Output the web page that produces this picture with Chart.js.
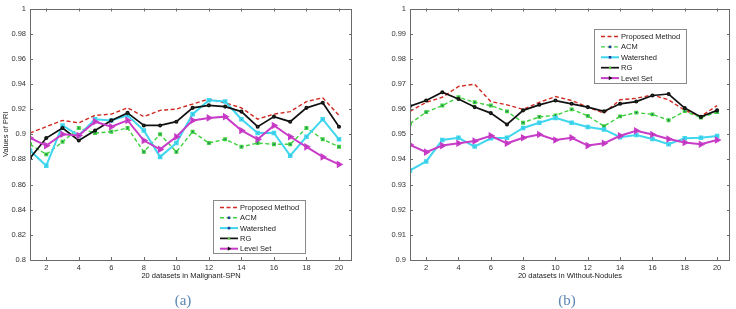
<!DOCTYPE html>
<html>
<head>
<meta charset="utf-8">
<script src="https://cdn.jsdelivr.net/npm/chart.js@4.4.0/dist/chart.umd.min.js"></script>
<style>
body { margin: 0; background: #fff; }
#wrap { position: relative; width: 736px; height: 309px; overflow: hidden; }
canvas { position: absolute; top: 0; }
.cap { position: absolute; top: 292px; font: 15px "Liberation Serif", "DejaVu Serif", serif; color: #5a86b4; transform: translateX(-50%); }
</style>
</head>
<body>
<div id="wrap">
  <canvas id="chartA" width="368" height="309" style="left:0"></canvas>
  <canvas id="chartB" width="368" height="309" style="left:368px"></canvas>
  <div class="cap" style="left:183px">(a)</div>
  <div class="cap" style="left:567px">(b)</div>
</div>
<script>
// values

var datasetNo = [1,2,3,4,5,6,7,8,9,10,11,12,13,14,15,16,17,18,19,20];
var xTicks = [2,4,6,8,10,12,14,16,18,20];
var seriesNames = ["Proposed Method", "ACM", "Watershed", "RG", "Level Set"];

// (a) Malignant-SPN
var spnYTicks = [0.8,0.82,0.84,0.86,0.88,0.9,0.92,0.94,0.96,0.98,1];
var spnProposed  = [0.901,0.906,0.911,0.909,0.915,0.916,0.921,0.914,0.919,0.920,0.924,0.928,0.925,0.921,0.912,0.916,0.918,0.926,0.929,0.915];
var spnAcm       = [0.892,0.884,0.894,0.905,0.901,0.902,0.905,0.886,0.900,0.886,0.902,0.893,0.896,0.890,0.893,0.892,0.892,0.905,0.896,0.890];
var spnWatershed = [0.887,0.875,0.907,0.899,0.912,0.911,0.915,0.903,0.882,0.893,0.916,0.927,0.926,0.912,0.901,0.901,0.883,0.898,0.912,0.896];
var spnRg        = [0.881,0.897,0.905,0.895,0.903,0.911,0.917,0.907,0.907,0.910,0.921,0.923,0.922,0.918,0.906,0.914,0.910,0.921,0.925,0.906];
var spnLevelSet  = [0.897,0.891,0.900,0.899,0.910,0.906,0.911,0.895,0.888,0.898,0.911,0.913,0.914,0.903,0.896,0.907,0.898,0.890,0.882,0.876];

// (b) Without-Nodules
var nodYTicks = [0.9,0.91,0.92,0.93,0.94,0.95,0.96,0.97,0.98,0.99,1];
var nodProposed  = [0.9591,0.9627,0.9647,0.9690,0.9699,0.9630,0.9617,0.9599,0.9627,0.9650,0.9634,0.9608,0.9584,0.9637,0.9643,0.9656,0.9637,0.9595,0.9571,0.9614];
var nodAcm       = [0.9542,0.9588,0.9614,0.9647,0.9627,0.9614,0.9591,0.9546,0.9569,0.9575,0.9599,0.9573,0.9532,0.9571,0.9586,0.9579,0.9556,0.9592,0.9566,0.9588];
var nodWatershed = [0.9356,0.9392,0.9477,0.9486,0.9451,0.9484,0.9486,0.9525,0.9546,0.9565,0.9546,0.9529,0.9519,0.9488,0.9497,0.9481,0.9460,0.9484,0.9486,0.9493];
var nodRg        = [0.9612,0.9634,0.9667,0.9640,0.9608,0.9584,0.9539,0.9595,0.9617,0.9634,0.9621,0.9608,0.9591,0.9621,0.9630,0.9654,0.9660,0.9604,0.9569,0.9595];
var nodLevelSet  = [0.9458,0.9429,0.9455,0.9464,0.9473,0.9494,0.9464,0.9486,0.9499,0.9477,0.9486,0.9455,0.9464,0.9494,0.9514,0.9499,0.9481,0.9467,0.9460,0.9477];

var FONT = '"Liberation Sans", Arial, sans-serif';

// MATLAB-like box with inward ticks on all four sides
var matlabAxes = {
  id: 'matlabAxes',
  afterDatasetsDraw: function(chart) {
    var a = chart.chartArea, ctx = chart.ctx;
    var xs = chart.scales.x, ys = chart.scales.y, t = 3;
    ctx.save();
    ctx.strokeStyle = '#6a6a6a';
    ctx.lineWidth = 1;
    ctx.strokeRect(Math.round(a.left) + 0.5, Math.round(a.top) + 0.5,
                   Math.round(a.right - a.left) - 1, Math.round(a.bottom - a.top) - 1);
    ctx.beginPath();
    xs.ticks.forEach(function(tk) {
      var px = Math.round(xs.getPixelForValue(tk.value)) + 0.5;
      ctx.moveTo(px, a.bottom); ctx.lineTo(px, a.bottom - t);
      ctx.moveTo(px, a.top); ctx.lineTo(px, a.top + t);
    });
    ys.ticks.forEach(function(tk) {
      var py = Math.round(ys.getPixelForValue(tk.value)) + 0.5;
      ctx.moveTo(a.left, py); ctx.lineTo(a.left + t, py);
      ctx.moveTo(a.right, py); ctx.lineTo(a.right - t, py);
    });
    ctx.stroke();
    ctx.restore();
  }
};

// boxed legend inside the axes
var legendBox = {
  id: 'legendBox',
  afterDraw: function(chart, args, opts) {
    var ctx = chart.ctx, x = opts.x, y = opts.y;
    ctx.save();
    ctx.fillStyle = '#fff';
    ctx.fillRect(x, y, opts.w, opts.h);
    ctx.strokeStyle = '#8a8a8a';
    ctx.lineWidth = 1;
    ctx.strokeRect(x + 0.5, y + 0.5, opts.w, opts.h);
    ctx.font = '7.5px ' + FONT;
    ctx.textBaseline = 'middle';
    chart.data.datasets.forEach(function(ds, i) {
      var cy = y + 7.5 + i * opts.row;
      ctx.strokeStyle = ds.borderColor;
      ctx.lineWidth = ds.borderWidth;
      ctx.setLineDash(ds.borderDash || []);
      ctx.beginPath(); ctx.moveTo(x + 7, cy); ctx.lineTo(x + 25, cy); ctx.stroke();
      ctx.setLineDash([]);
      if (ds.pointRadius > 0) {
        ctx.fillStyle = ds.pointBackgroundColor;
        Chart.helpers.drawPoint(ctx, {
          pointStyle: ds.pointStyle, rotation: ds.pointRotation || 0,
          radius: ds.pointRadius, borderWidth: 0
        }, x + 16, cy);
      }
      ctx.fillStyle = '#222';
      ctx.fillText(ds.label, x + 27, cy + 0.5);
    });
    ctx.restore();
  }
};

function pts(vals) {
  return vals.map(function(v, i) { return { x: datasetNo[i], y: vals[i] }; });
}

function makeDatasets(p, acm, ws, rg, ls) {
  return [
    { label: seriesNames[0], data: pts(p), borderColor: '#d02a22', borderWidth: 1.4, borderDash: [4, 2.5],
      pointRadius: 0, order: 5 },
    { label: seriesNames[1], data: pts(acm), borderColor: '#3fd13f', borderWidth: 1.4, borderDash: [4, 2.5],
      pointStyle: 'rect', pointRadius: 1.8, pointBackgroundColor: '#1f3a93', order: 4 },
    { label: seriesNames[2], data: pts(ws), borderColor: '#3fd6ee', borderWidth: 2,
      pointStyle: 'rect', pointRadius: 1.8, pointBackgroundColor: '#1f3a93', order: 3 },
    { label: seriesNames[3], data: pts(rg), borderColor: '#111111', borderWidth: 1.7,
      pointStyle: 'circle', pointRadius: 1.2, pointBackgroundColor: '#5ccc44', order: 2 },
    { label: seriesNames[4], data: pts(ls), borderColor: '#c83cc8', borderWidth: 2,
      pointStyle: 'triangle', pointRotation: 90, pointRadius: 2.4, pointBackgroundColor: '#111111', order: 1 }
  ];
}

function makeChart(id, datasets, yTicks, xTitle, yTitle, yWidth, padRight, legendPos) {
  return new Chart(document.getElementById(id), {
    type: 'line',
    data: { datasets: datasets },
    options: {
      responsive: false,
      animation: false,
      layout: { padding: { top: 5, right: padRight, bottom: 28.5, left: 0 } },
      elements: { line: { tension: 0, fill: false }, point: { borderWidth: 0 } },
      plugins: {
        legend: { display: false },
        tooltip: { enabled: false },
        legendBox: legendPos
      },
      scales: {
        x: {
          type: 'linear', min: 1, max: 20.8,
          grid: { display: false, drawTicks: false },
          border: { display: false },
          afterBuildTicks: function(scale) { scale.ticks = xTicks.map(function(v) { return { value: v }; }); },
          afterFit: function(scale) { scale.height = 20.5; },
          ticks: { padding: 3, color: '#333', font: { family: FONT, size: 7.5 }, maxRotation: 0, autoSkip: false },
          title: { display: true, text: xTitle, color: '#222', padding: 0, font: { family: FONT, size: 7.5 } }
        },
        y: {
          min: yTicks[0], max: yTicks[yTicks.length - 1],
          grid: { display: false, drawTicks: false },
          border: { display: false },
          afterBuildTicks: function(scale) { scale.ticks = yTicks.map(function(v) { return { value: v }; }); },
          afterFit: function(scale) { scale.width = yWidth; },
          ticks: {
            padding: 4, color: '#333', font: { family: FONT, size: 7.5 }, autoSkip: false,
            callback: function(v) { return String(+Number(v).toFixed(2)); }
          },
          title: { display: !!yTitle, text: yTitle, color: '#222', padding: { top: 1, bottom: 0 }, font: { family: FONT, size: 7.5 } }
        }
      }
    },
    plugins: [matlabAxes, legendBox]
  });
}

makeChart('chartA', makeDatasets(spnProposed, spnAcm, spnWatershed, spnRg, spnLevelSet),
  spnYTicks, '20 datasets in Malignant-SPN', 'Values of PRI', 30, 16,
  { x: 213, y: 200, w: 92, h: 53, row: 10.3 });

makeChart('chartB', makeDatasets(nodProposed, nodAcm, nodWatershed, nodRg, nodLevelSet),
  nodYTicks, '20 datasets in Without-Nodules', '', 42, 5,
  { x: 226, y: 29, w: 92, h: 54, row: 10.4 });
</script>
</body>
</html>
